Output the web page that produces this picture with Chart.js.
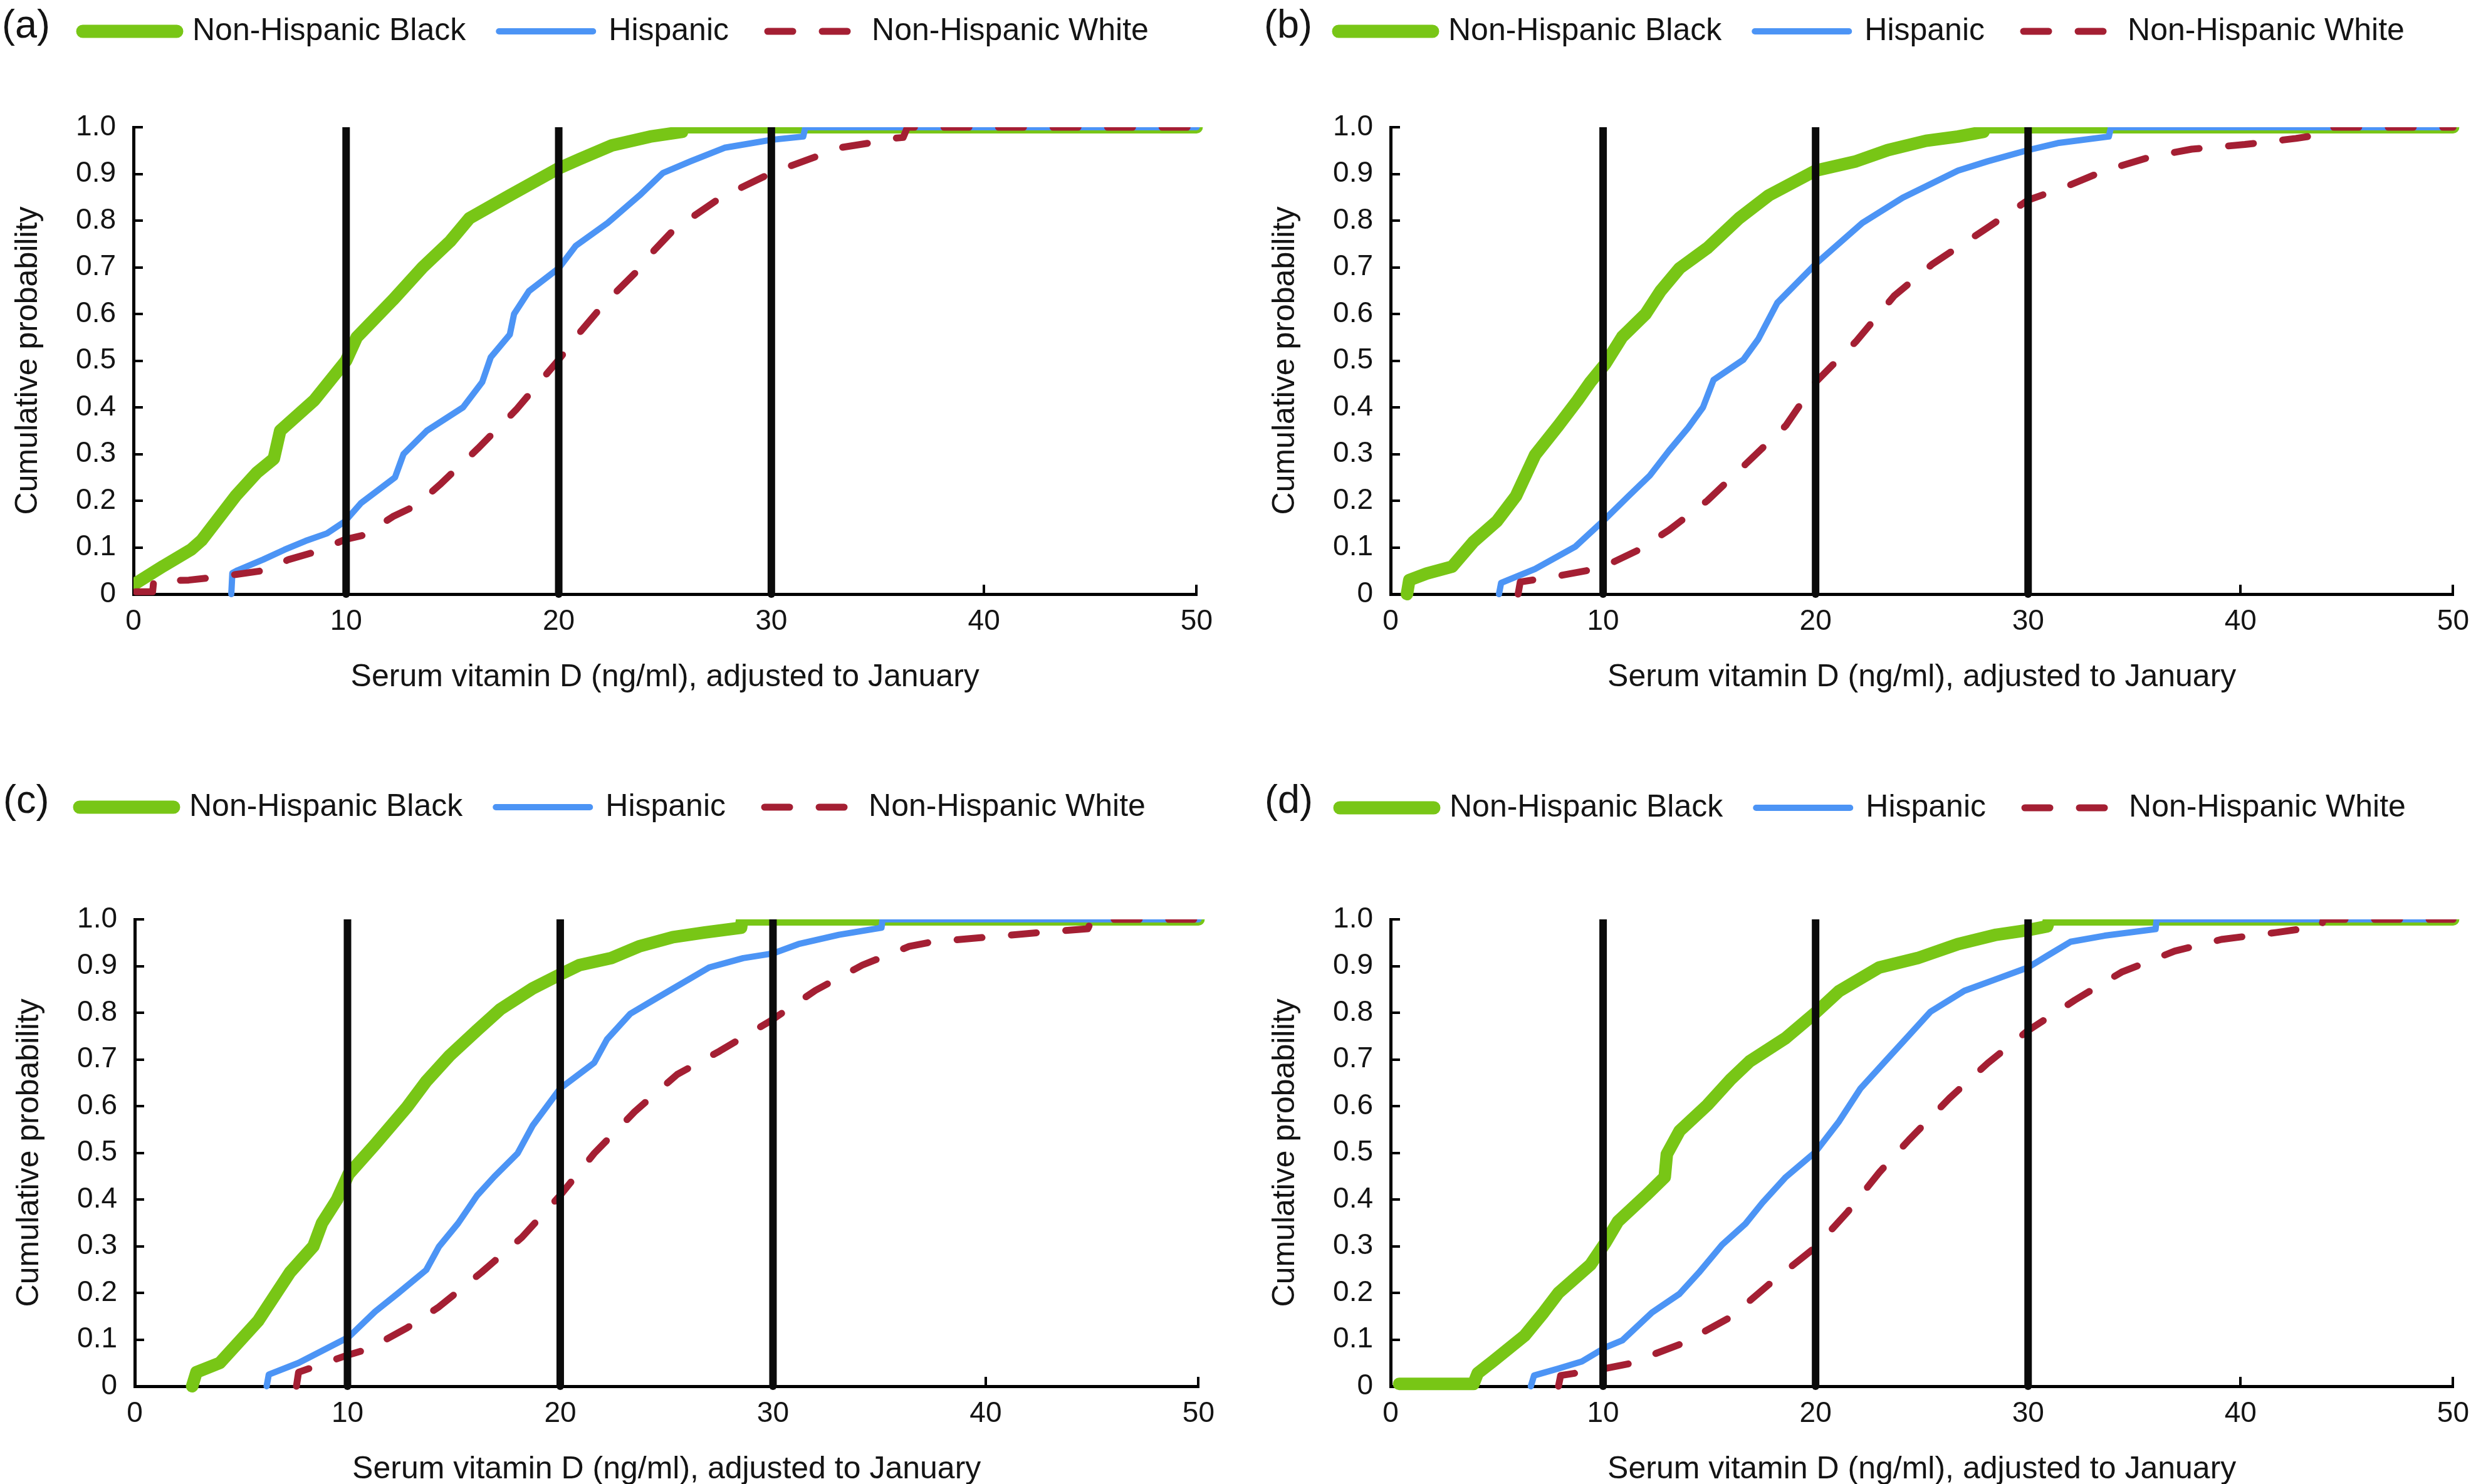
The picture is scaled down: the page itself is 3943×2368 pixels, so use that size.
<!DOCTYPE html>
<html>
<head>
<meta charset="utf-8">
<script src="https://cdn.jsdelivr.net/npm/chart.js@4.4.1/dist/chart.umd.min.js"></script>
<style>
html,body{margin:0;padding:0;background:#fff;}
body{width:3943px;height:2368px;position:relative;overflow:hidden;font-family:'Liberation Sans',Arial,Helvetica,sans-serif;}
canvas{position:absolute;}
.plab{position:absolute;font-size:63px;line-height:63px;color:#141414;white-space:nowrap;}
</style>
</head>
<body>
<script>
// ---------------- DATA ----------------
const panelLabels = ['(a)', '(b)', '(c)', '(d)'];
const seriesLabels = ['Non-Hispanic Black', 'Hispanic', 'Non-Hispanic White'];
const xTitle = 'Serum vitamin D (ng/ml), adjusted to January';
const yTitle = 'Cumulative probability';
const xTickLabels = ['0', '10', '20', '30', '40', '50'];
const yTickLabels = ['0', '0.1', '0.2', '0.3', '0.4', '0.5', '0.6', '0.7', '0.8', '0.9', '1.0'];
const cutoffs = [10, 20, 30];

// Panel (a)
const aBlack = [[0,0.02],[1.4,0.06],[2.7,0.095],[3.2,0.115],[4.8,0.21],[5.8,0.26],[6.6,0.29],[6.9,0.35],[8.5,0.415],[10,0.5],[10.5,0.55],[12.2,0.63],[13.6,0.7],[14.9,0.756],[15.8,0.805],[17.7,0.854],[20,0.912],[21,0.932],[22.5,0.961],[24.3,0.98],[25.8,0.99],[25.85,1.0],[50,1.0]];
const aHispanic = [[4.6,0],[4.65,0.045],[4.9,0.051],[6.1,0.074],[7.1,0.095],[8.1,0.114],[9.1,0.13],[9.95,0.156],[10.7,0.195],[12.3,0.25],[12.7,0.3],[13.8,0.35],[15.5,0.4],[16.4,0.454],[16.8,0.507],[17.7,0.556],[17.9,0.6],[18.6,0.649],[20,0.698],[20.8,0.746],[22.3,0.795],[23.8,0.854],[24.9,0.902],[26.2,0.927],[27.8,0.956],[30,0.973],[31.5,0.98],[31.6,1.0],[50,1.0]];
const aWhite = [[0.1,0.005],[0.9,0.005],[0.95,0.028],[2.6,0.03],[3.6,0.035],[4.8,0.042],[6.2,0.051],[7.3,0.074],[8.6,0.091],[9.95,0.117],[10.9,0.127],[12.2,0.166],[13.3,0.19],[14.4,0.234],[16.2,0.312],[18,0.395],[20,0.502],[21,0.561],[22.1,0.62],[23.6,0.688],[24.5,0.737],[25.4,0.78],[26.2,0.805],[27.6,0.849],[30,0.902],[32.1,0.937],[33.2,0.956],[34.6,0.966],[35.7,0.976],[36.2,0.978],[36.4,1.0],[50,1.0]];

// Panel (b)
const bBlack = [[0.77,0],[0.88,0.03],[1.7,0.044],[2.9,0.059],[3.9,0.112],[5,0.156],[5.9,0.21],[6.8,0.298],[7.9,0.361],[8.8,0.415],[9.4,0.454],[10.1,0.493],[10.9,0.551],[12,0.6],[12.7,0.649],[13.6,0.698],[14.9,0.741],[16.4,0.805],[17.8,0.854],[20,0.907],[21.9,0.927],[23.4,0.951],[25.2,0.971],[26.7,0.98],[27.9,0.99],[28,1.0],[50,1.0]];
const bHispanic = [[5.1,0],[5.2,0.024],[6.8,0.054],[8.7,0.102],[10.1,0.161],[11.2,0.21],[12.2,0.254],[13.1,0.307],[14,0.356],[14.7,0.4],[15.2,0.459],[16.6,0.502],[17.3,0.546],[18.2,0.624],[20,0.707],[22.2,0.795],[24.1,0.849],[26.7,0.907],[28.1,0.927],[30,0.951],[31.4,0.966],[33.8,0.98],[33.9,1.0],[50,1.0]];
const bWhite = [[6,0],[6.1,0.026],[7.9,0.039],[9.9,0.056],[11.6,0.093],[13.1,0.137],[14.9,0.2],[16.7,0.278],[18.6,0.361],[20,0.454],[21.9,0.541],[23.7,0.639],[25.5,0.707],[28.1,0.785],[30,0.844],[31.8,0.873],[33.6,0.907],[35.8,0.937],[37.7,0.953],[40.2,0.963],[42.6,0.976],[43.9,0.985],[44.2,1.0],[50,1.0]];

// Panel (c)
const cBlack = [[2.7,0],[2.9,0.03],[4,0.05],[5.8,0.14],[7.3,0.244],[8.4,0.3],[8.8,0.349],[9.5,0.399],[10.05,0.454],[11.3,0.518],[12.8,0.598],[13.7,0.653],[14.8,0.708],[16.1,0.763],[17.2,0.808],[18.7,0.852],[20,0.882],[20.9,0.902],[22.4,0.917],[23.7,0.942],[25.3,0.962],[26.8,0.972],[28.5,0.982],[28.55,1.0],[50,1.0]];
const cHispanic = [[6.2,0],[6.3,0.025],[7.7,0.05],[10.05,0.105],[11.3,0.16],[12.4,0.2],[13.7,0.249],[14.3,0.299],[15.2,0.349],[16.1,0.409],[16.9,0.449],[18,0.499],[18.7,0.558],[20,0.638],[21.6,0.693],[22.2,0.743],[23.3,0.798],[24.6,0.833],[27,0.897],[28.6,0.917],[30,0.927],[31.2,0.947],[33.1,0.967],[35.1,0.982],[35.15,1.0],[50,1.0]];
const cWhite = [[7.6,0],[7.7,0.03],[9.9,0.065],[11,0.08],[12.8,0.125],[14.3,0.17],[16.3,0.244],[18.2,0.319],[20,0.409],[21.6,0.499],[23.5,0.588],[25.5,0.668],[27.5,0.718],[29.9,0.783],[32,0.848],[34.2,0.902],[36.4,0.942],[37.5,0.952],[40.1,0.962],[42.6,0.972],[44.8,0.98],[45,1.0],[50,1.0]];

// Panel (d)
const dBlack = [[0.4,0.005],[3.9,0.005],[4.1,0.028],[4.8,0.053],[6.3,0.108],[7.2,0.158],[7.9,0.2],[9.4,0.26],[10.1,0.307],[10.7,0.353],[12,0.408],[12.9,0.448],[13,0.497],[13.6,0.547],[14.9,0.602],[16,0.657],[16.9,0.696],[18.6,0.746],[20,0.8],[21.1,0.846],[23,0.897],[24.8,0.917],[26.7,0.947],[28.5,0.967],[30,0.977],[30.9,0.985],[31,1.0],[50,1.0]];
const dHispanic = [[6.6,0],[6.75,0.023],[7.9,0.038],[9,0.053],[10.1,0.083],[10.9,0.098],[12.3,0.158],[13.6,0.198],[14.5,0.243],[15.6,0.303],[16.7,0.348],[17.5,0.393],[18.6,0.448],[20,0.502],[21.1,0.567],[22.1,0.637],[23.3,0.697],[24.4,0.752],[25.4,0.802],[27,0.847],[28.5,0.872],[30,0.897],[30.9,0.922],[32,0.952],[33.6,0.965],[36,0.979],[36.05,1.0],[50,1.0]];
const dWhite = [[7.9,0],[8,0.023],[10.1,0.038],[11.2,0.048],[13.8,0.093],[16,0.148],[17.8,0.218],[20,0.298],[21.5,0.373],[23,0.458],[24.4,0.528],[26.3,0.617],[28.1,0.692],[30,0.762],[32.2,0.827],[34.4,0.887],[36.9,0.932],[39.1,0.957],[41.7,0.972],[42.8,0.979],[43.8,0.985],[43.9,1.0],[50,1.0]];

// ---------------- STYLE / LAYOUT ----------------
const seriesStyle = [
  {color: '#78C616', width: 20, legendWidth: 21, dash: [], dashOffset: 0},
  {color: '#4C94F5', width: 10, legendWidth: 10, dash: [], dashOffset: 0},
  {color: '#A41F33', width: 11, legendWidth: 11, dash: [40, 47], dashOffset: 78}
];
const TEXT = '#141414';
const FONT = "'Liberation Sans', Arial, Helvetica, sans-serif";
Chart.defaults.font.family = FONT;
Chart.defaults.color = TEXT;

const LEG_PAD = 53, LEG_FONT = 50, LEG_BOX = 150, XAXIS_H = 170, RIGHT_ROOM = 60;

const panels = [
  {data: [aBlack, aHispanic, aWhite], L: 213, R: 1909, T: 203, B: 948, legY: 50, x0: 132, labX: 3, labTop: 7},
  {data: [bBlack, bHispanic, bWhite], L: 2219, R: 3914, T: 203, B: 948, legY: 50, x0: 2136, labX: 2017, labTop: 7},
  {data: [cBlack, cHispanic, cWhite], L: 215, R: 1912, T: 1467, B: 2212, legY: 1288, x0: 127, labX: 5, labTop: 1244},
  {data: [dBlack, dHispanic, dWhite], L: 2219, R: 3914, T: 1467, B: 2212, legY: 1289, x0: 2138, labX: 2018, labTop: 1244}
];

const toXY = arr => arr.map(p => ({x: p[0], y: p[1]}));

panels.forEach((p, pi) => {
  const lab = document.createElement('div');
  lab.className = 'plab';
  lab.style.left = p.labX + 'px';
  lab.style.top = p.labTop + 'px';
  lab.textContent = panelLabels[pi];
  document.body.appendChild(lab);

  const cl = p.L - 213;                       // canvas left (page)
  const ct = p.legY - LEG_PAD - LEG_FONT / 2; // canvas top (page)
  const padL = (p.x0 - LEG_PAD) - cl;         // legend / y-axis box left (canvas)
  const cw = p.R - cl + RIGHT_ROOM;
  const ch = p.B - ct + XAXIS_H;
  const yAxisW = p.L - (p.x0 - LEG_PAD);
  const legendH = p.T - ct;
  const yTitleCenter = (p.L - 168) - cl;      // canvas coords
  const yTitlePad = yTitleCenter - padL - 30;

  const cv = document.createElement('canvas');
  cv.width = cw; cv.height = ch;
  cv.style.left = cl + 'px'; cv.style.top = ct + 'px';
  cv.style.width = cw + 'px'; cv.style.height = ch + 'px';
  document.body.appendChild(cv);

  const clip = {left: 0, top: 0, right: 12, bottom: 12};
  const datasets = p.data.map((arr, si) => ({
    label: seriesLabels[si],
    data: toXY(arr),
    borderColor: seriesStyle[si].color,
    backgroundColor: seriesStyle[si].color,
    borderWidth: seriesStyle[si].width,
    borderDash: seriesStyle[si].dash,
    borderCapStyle: 'round',
    borderJoinStyle: 'round',
    pointRadius: 0,
    tension: 0,
    fill: false,
    order: 3 - si,
    clip: clip
  }));
  cutoffs.forEach(c => datasets.push({
    label: '',
    data: [{x: c, y: 0}, {x: c, y: 1}],
    borderColor: '#0b0b0b',
    borderWidth: 12,
    borderCapStyle: 'round',
    pointRadius: 0,
    tension: 0,
    fill: false,
    order: 0,
    clip: clip
  }));

  const legendHeightPlugin = {
    id: 'legendHeight' + pi,
    beforeLayout(chart) {
      const lg = chart.legend;
      if (lg && !lg._fixedH) {
        const f = lg.fit;
        lg.fit = function () { f.call(this); this.height = legendH; };
        lg._fixedH = true;
      }
    }
  };

  const chart = new Chart(cv, {
    type: 'line',
    data: {datasets},
    options: {
      responsive: false,
      maintainAspectRatio: false,
      animation: false,
      devicePixelRatio: 1,
      layout: {padding: {left: padL, top: 0, right: 0, bottom: 0}},
      plugins: {
        tooltip: {enabled: false},
        legend: {
          display: true,
          position: 'top',
          align: 'start',
          labels: {
            usePointStyle: true,
            pointStyleWidth: LEG_BOX,
            padding: LEG_PAD,
            color: TEXT,
            font: {size: LEG_FONT, family: FONT},
            generateLabels: () => seriesLabels.map((t, si) => ({
              text: t,
              fillStyle: seriesStyle[si].color,
              strokeStyle: seriesStyle[si].color,
              fontColor: TEXT,
              lineWidth: seriesStyle[si].legendWidth,
              lineDash: seriesStyle[si].dash,
              lineDashOffset: seriesStyle[si].dashOffset,
              lineCap: 'round',
              lineJoin: 'round',
              pointStyle: 'line',
              rotation: 0,
              hidden: false,
              datasetIndex: si
            }))
          }
        }
      },
      scales: {
        x: {
          type: 'linear',
          min: 0, max: 50,
          afterFit: s => { s.height = XAXIS_H; },
          ticks: {
            stepSize: 10, autoSkip: false, maxRotation: 0, minRotation: 0,
            padding: 32, color: TEXT, font: {size: 46},
            callback: v => xTickLabels[Math.round(v / 10)]
          },
          grid: {display: true, drawOnChartArea: false, drawTicks: true, tickLength: -15, tickWidth: 4, tickColor: '#000', lineWidth: 4, color: '#000'},
          border: {display: true, width: 5, color: '#000'},
          title: {display: true, text: xTitle, color: TEXT, font: {size: 50}, padding: {top: 0, bottom: 7}}
        },
        y: {
          type: 'linear',
          min: 0, max: 1,
          afterFit: s => { s.width = yAxisW; },
          ticks: {
            stepSize: 0.1, autoSkip: false, padding: 43, color: TEXT, font: {size: 46},
            callback: v => yTickLabels[Math.round(v * 10)]
          },
          grid: {display: true, drawOnChartArea: false, drawTicks: true, tickLength: -15, tickWidth: 4, tickColor: '#000', lineWidth: 4, color: '#000'},
          border: {display: true, width: 5, color: '#000'},
          title: {display: true, text: yTitle, color: TEXT, font: {size: 50}, padding: {top: yTitlePad, bottom: 0}}
        }
      }
    },
    plugins: [legendHeightPlugin]
  });

  // make the canvas exactly wide enough for the plot area to end where the reference's does
  const targetRight = p.R - cl;
  const overhang = cw - chart.chartArea.right;
  const newW = Math.round(targetRight + overhang);
  if (newW !== cw) {
    chart.resize(newW, ch);
  }
});
</script>
</body>
</html>
